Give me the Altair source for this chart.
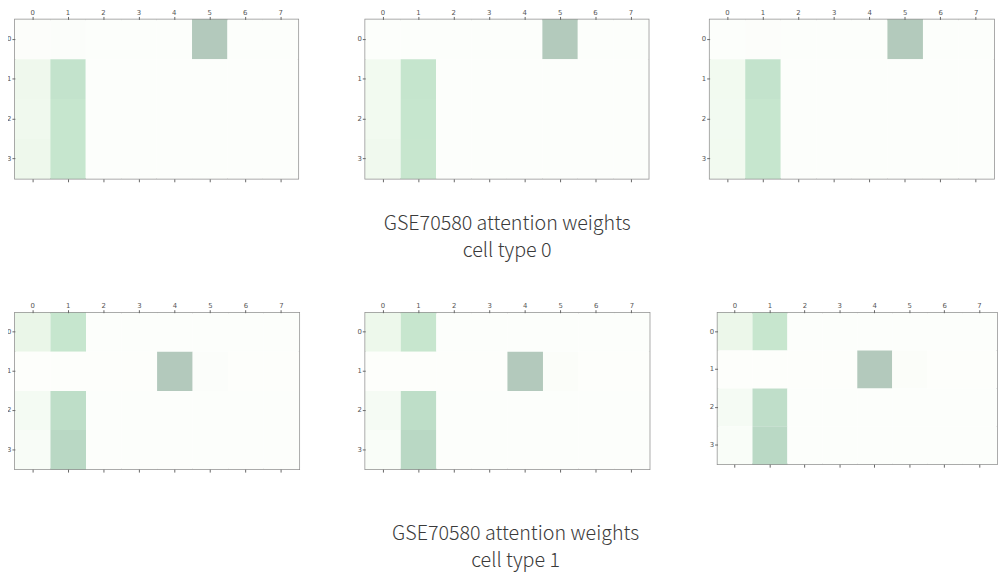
import altair as alt
import pandas as pd

ROWS = [0, 1, 2, 3]
COLS = [0, 1, 2, 3, 4, 5, 6, 7]

# attention weights (colour-scale position 0..1)
cell0_run_a = [
    [0.03, 0.04, 0.02, 0.02, 0.02, 0.98, 0.02, 0.02],
    [0.24, 0.66, 0.02, 0.02, 0.02, 0.02, 0.02, 0.02],
    [0.22, 0.63, 0.02, 0.02, 0.02, 0.02, 0.02, 0.02],
    [0.25, 0.63, 0.02, 0.02, 0.02, 0.02, 0.02, 0.02],
]
cell0_run_b = [
    [0.02, 0.02, 0.02, 0.02, 0.02, 0.97, 0.02, 0.02],
    [0.20, 0.64, 0.02, 0.02, 0.02, 0.02, 0.02, 0.02],
    [0.20, 0.63, 0.02, 0.02, 0.02, 0.02, 0.02, 0.02],
    [0.22, 0.62, 0.02, 0.02, 0.02, 0.02, 0.02, 0.02],
]
cell0_run_c = [
    [0.02, 0.03, 0.02, 0.02, 0.02, 0.97, 0.02, 0.02],
    [0.20, 0.66, 0.02, 0.02, 0.02, 0.02, 0.02, 0.02],
    [0.19, 0.63, 0.02, 0.02, 0.02, 0.02, 0.02, 0.02],
    [0.20, 0.63, 0.02, 0.02, 0.02, 0.02, 0.02, 0.02],
]
cell1_run_a = [
    [0.30, 0.63, 0.02, 0.02, 0.02, 0.02, 0.02, 0.02],
    [0.01, 0.01, 0.01, 0.01, 0.98, 0.04, 0.01, 0.01],
    [0.16, 0.73, 0.02, 0.02, 0.02, 0.02, 0.02, 0.02],
    [0.10, 0.80, 0.02, 0.02, 0.02, 0.02, 0.02, 0.02],
]
cell1_run_b = [
    [0.26, 0.62, 0.02, 0.02, 0.02, 0.02, 0.02, 0.02],
    [0.01, 0.01, 0.01, 0.01, 0.98, 0.05, 0.01, 0.01],
    [0.15, 0.73, 0.02, 0.02, 0.02, 0.02, 0.02, 0.02],
    [0.09, 0.80, 0.02, 0.02, 0.02, 0.02, 0.02, 0.02],
]
cell1_run_c = [
    [0.27, 0.62, 0.02, 0.02, 0.02, 0.02, 0.02, 0.02],
    [0.01, 0.01, 0.01, 0.01, 0.98, 0.05, 0.01, 0.01],
    [0.15, 0.72, 0.02, 0.02, 0.02, 0.02, 0.02, 0.02],
    [0.09, 0.79, 0.02, 0.02, 0.02, 0.02, 0.02, 0.02],
]

TITLE_0 = ["GSE70580 attention weights", "cell type 0"]
TITLE_1 = ["GSE70580 attention weights", "cell type 1"]

# "Greens" stops washed onto white (alpha 0.3 look)
GREENS_WASHED = ["#fdfefc", "#f7fcf6", "#eef8ec", "#e3f4e1", "#d5edd6",
                 "#c6e6ce", "#bddcc7", "#b3d3c0", "#b3c7bb"]


def panel(matrix, w, h):
    df = pd.DataFrame([{"row": r, "col": c, "weight": matrix[r][c]}
                       for r in ROWS for c in COLS])
    xs = alt.Scale(paddingInner=0, paddingOuter=0)
    ys = alt.Scale(paddingInner=0, paddingOuter=0)
    base = alt.Chart(df).properties(width=w, height=h)
    cells = base.mark_rect(strokeWidth=0).encode(
        x=alt.X("col:O", scale=xs,
                axis=alt.Axis(orient="top", title=None, labelAngle=0)),
        y=alt.Y("row:O", scale=ys, axis=alt.Axis(orient="left", title=None)),
        color=alt.Color("weight:Q",
                        scale=alt.Scale(domain=[0, 1], range=GREENS_WASHED),
                        legend=None),
    )
    bottom = base.mark_rect(opacity=0).encode(
        x=alt.X("col:O", scale=xs,
                axis=alt.Axis(orient="bottom", title=None, labels=False)),
        y=alt.Y("row:O", scale=ys, axis=alt.Axis(orient="left", title=None)),
    )
    return alt.layer(cells, bottom).resolve_axis(x="independent")


title_style = dict(orient="bottom", anchor="middle", fontSize=20,
                   font="Noto Sans CJK SC", fontWeight=300,
                   color="#3a3a3a", lineHeight=27)

row0 = alt.hconcat(
    alt.hconcat(panel(cell0_run_a, 288, 162), panel(cell0_run_b, 288, 162),
                spacing=57),
    panel(cell0_run_c, 289, 162),
    spacing=51,
).properties(title=alt.TitleParams(TITLE_0, offset=32, dx=7, **title_style))

row1 = alt.hconcat(
    alt.hconcat(panel(cell1_run_a, 289, 159), panel(cell1_run_b, 289, 159),
                spacing=56),
    panel(cell1_run_c, 284, 154),
    spacing=58,
).properties(title=alt.TitleParams(TITLE_1, offset=52, dx=14, **title_style))

chart = alt.vconcat(row0, row1, spacing=40).properties(
    padding={"top": -5, "left": -3, "right": 0, "bottom": 0},
    background="white",
).configure_view(
    stroke="#8f8f8f", strokeWidth=1.5
).configure_axis(
    labelFontSize=7, labelColor="#555555", labelFont="DejaVu Sans",
    tickColor="#666666", tickSize=3, tickWidth=1, labelPadding=1,
    domain=False, grid=False,
)

chart.save("out.html", embed_options={"renderer": "svg", "actions": False})
